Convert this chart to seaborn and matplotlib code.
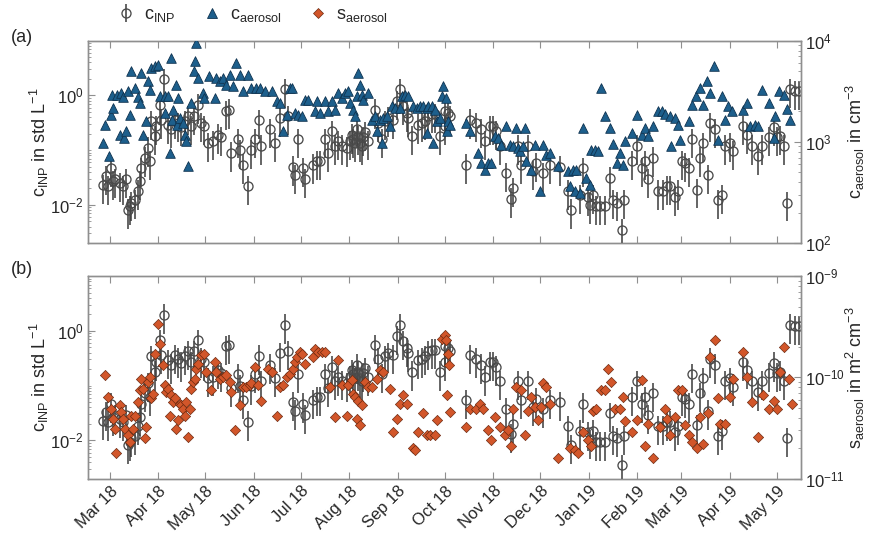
import numpy as np
import pandas as pd
import matplotlib
matplotlib.use("Agg")
import matplotlib.pyplot as plt
import matplotlib.ticker as mticker
import matplotlib.dates as mdates
from matplotlib.lines import Line2D
import seaborn as sns

sns.set_theme(style="white")
plt.rcParams["font.family"] = ["Liberation Sans", "DejaVu Sans"]
plt.rcParams["mathtext.default"] = "regular"

START = pd.Timestamp("2018-03-01")

# ---------------- data (day offset from 1 Mar 2018, value) ----------------
inp_day = [-4.5, -2.3, -1.3, 0.8, 1.9, 3.0, 6.2, 8.3, 10.4, 11.5, 12.6, 13.6, 15.8, 17.9, 19.0,
           20.0, 22.2, 24.3, 25.3, 26.0, 28.5, 29.6, 31.7, 32.8, 34.5, 37.1, 39.2, 41.3, 43.4,
           45.6, 47.7, 49.8, 51.9, 54.0, 56.2, 58.3, 60.4, 62.6, 65.8, 69.0, 71.1, 74.3, 75.8,
           77.5, 81.8, 82.8, 85.0, 88.2, 90.3, 92.4, 95.0, 96.7, 102.2, 105.4, 108.6, 111.8,
           113.9, 117.1, 118.2, 120.3, 123.5, 124.6, 129.9, 132.0, 134.1, 137.3, 139.5, 141.6,
           143.7, 145.9, 148.0, 151.2, 153.3, 154.4, 155.4, 156.5, 157.6, 158.6, 159.7, 160.8,
           161.8, 162.9, 165.0, 169.3, 171.4, 173.5, 175.7, 177.8, 181.0, 183.1, 185.3, 187.4,
           189.5, 190.6, 192.7, 197.0, 199.1, 201.2, 203.4, 205.5, 207.6, 210.8, 213.9, 214.0,
           216.0, 217.1, 227.7, 229.8, 234.1, 237.3, 239.4, 242.6, 244.7, 246.9, 249.0, 253.3,
           256.5, 257.5, 260.7, 262.9, 267.1, 270.3, 272.4, 276.7, 281.0, 287.3, 292.7, 294.8,
           300.1, 302.3, 305.5, 306.5, 308.6, 310.8, 312.9, 316.1, 319.3, 321.4, 323.6, 326.8,
           328.5, 333.4, 336.6, 339.7, 341.9, 344.0, 347.2, 350.4, 353.6, 355.7, 357.8, 361.0,
           363.2, 365.3, 367.4, 369.6, 371.7, 374.9, 377.0, 378.7, 382.3, 383.4, 386.6, 388.7,
           390.9, 393.0, 396.2, 398.3, 404.7, 406.8, 410.0, 414.3, 416.4, 420.7, 423.9, 426.0,
           428.1, 430.3, 432.4, 434.5, 437.7, 439.9]
inp_val = [0.023, 0.033, 0.022, 0.047, 0.027, 0.029, 0.025, 0.022, 0.029, 0.0081, 0.0093, 0.011,
           0.012, 0.018, 0.027, 0.047, 0.072, 0.11, 0.062, 0.34, 0.18, 0.27, 0.68, 0.36, 1.97,
           0.29, 0.24, 0.36, 0.31, 0.26, 0.34, 0.42, 0.27, 0.42, 0.68, 0.31, 0.27, 0.135, 0.145,
           0.19, 0.17, 0.52, 0.55, 0.089, 0.16, 0.10, 0.054, 0.022, 0.10, 0.16, 0.35, 0.12, 0.24,
           0.135, 0.39, 1.29, 0.42, 0.050, 0.035, 0.16, 0.047, 0.029, 0.054, 0.062, 0.062, 0.16,
           0.089, 0.22, 0.12, 0.145, 0.12, 0.11, 0.145, 0.19, 0.16, 0.135, 0.24, 0.18, 0.135,
           0.12, 0.17, 0.21, 0.145, 0.55, 0.31, 0.16, 0.34, 0.39, 0.36, 0.79, 1.29, 0.64, 0.48,
           0.39, 0.18, 0.29, 0.31, 0.34, 0.42, 0.45, 0.45, 0.18, 0.27, 0.52, 0.48, 0.42, 0.054,
           0.36, 0.31, 0.24, 0.145, 0.27, 0.27, 0.22, 0.12, 0.038, 0.013, 0.020, 0.12, 0.054,
           0.12, 0.041, 0.058, 0.038, 0.054, 0.050, 0.018, 0.0081, 0.015, 0.047, 0.014, 0.010,
           0.015, 0.0093, 0.0093, 0.0093, 0.031, 0.012, 0.011, 0.0035, 0.012, 0.062, 0.12, 0.047,
           0.062, 0.029, 0.072, 0.018, 0.018, 0.022, 0.022, 0.014, 0.018, 0.062, 0.058, 0.047,
           0.16, 0.019, 0.072, 0.135, 0.035, 0.31, 0.24, 0.012, 0.015, 0.12, 0.135, 0.095, 0.27,
           0.19, 0.12, 0.077, 0.12, 0.17, 0.26, 0.17, 0.18, 0.12, 0.011, 1.29, 1.2, 1.2]

aer_day = [-4.5, -3.0, -0.9, 0.5, 1.2, 1.9, 4.7, 7.2, 8.3, 6.2, 8.8, 10.4, 12.6, 11.5, 13.6, 15.8,
           17.9, 19.0, 20.0, 21.1, 23.2, 24.3, 25.3, 26.4, 28.5, 30.7, 31.7, 34.9, 35.4, 37.1,
           38.1, 39.2, 39.7, 40.3, 42.4, 42.9, 43.4, 44.5, 46.6, 47.7, 48.8, 49.8, 51.9, 53.7,
           54.1, 55.2, 56.2, 59.4, 60.4, 63.6, 66.8, 67.9, 70.0, 72.2, 74.3, 76.5, 78.6, 80.7,
           82.8, 85.0, 88.2, 90.3, 93.5, 95.6, 98.8, 103.3, 106.5, 108.6, 110.7, 112.8, 115.0,
           116.0, 118.2, 120.3, 122.4, 124.6, 126.7, 130.9, 132.0, 134.1, 137.3, 139.5, 141.6,
           143.7, 145.9, 148.0, 150.1, 152.2, 153.3, 155.4, 156.5, 157.6, 158.6, 159.7, 160.8,
           161.8, 165.0, 167.2, 169.3, 170.4, 172.5, 173.5, 174.6, 176.7, 178.9, 179.9, 182.1,
           185.3, 186.3, 188.5, 190.6, 193.8, 195.9, 198.0, 200.2, 202.3, 202.8, 203.4, 205.5,
           206.6, 207.6, 208.7, 210.8, 211.9, 213.0, 214.9, 215.5, 216.0, 217.1, 227.7, 229.8,
           235.2, 237.3, 239.4, 241.6, 243.7, 245.8, 248.0, 250.1, 253.3, 255.4, 257.5, 259.7,
           260.5, 261.8, 263.9, 265.0, 266.0, 269.2, 271.4, 274.6, 276.7, 278.8, 281.0, 286.3,
           292.7, 293.7, 295.9, 296.9, 298.0, 300.1, 302.3, 304.4, 306.5, 307.6, 309.7, 311.8,
           314.0, 316.1, 319.3, 321.4, 323.6, 325.7, 327.8, 329.1, 333.4, 336.6, 339.7, 341.9,
           344.0, 347.2, 350.4, 352.5, 354.7, 357.8, 358.5, 361.0, 363.2, 364.2, 369.6, 371.7,
           374.5, 377.0, 379.1, 381.7, 383.4, 386.0, 388.7, 390.9, 393.0, 395.1, 397.3, 404.7,
           406.8, 409.0, 412.2, 414.3, 416.4, 420.7, 423.9, 424.9, 427.1, 430.3, 432.4, 434.5]
aer_val = [975, 1480, 720, 1860, 2930, 2160, 2930, 3040, 2760, 1180, 1090, 1270, 1830, 3160, 5050,
           3410, 2760, 2420, 4800, 1180, 1600, 3970, 3280, 5370, 5580, 5790, 2820, 2820, 1930,
           2820, 776, 6740, 1660, 2080, 3680, 1480, 2710, 1720, 1540, 1180, 1010, 573, 2420, 4980,
           6250, 9480, 4280, 3040, 2710, 4440, 2710, 4280, 3970, 4280, 3680, 4620, 3540, 6010,
           4540, 3160, 4620, 3410, 3410, 3410, 3160, 3160, 2520, 2420, 1270, 1860, 3410, 3410,
           1930, 1860, 1790, 2610, 2610, 2000, 2520, 1930, 2520, 2000, 2520, 2080, 3040, 2710,
           3040, 3160, 2420, 2080, 1790, 2820, 4800, 3680, 2930, 2610, 3040, 1660, 1790, 1270,
           1660, 975, 1720, 1790, 1420, 2250, 2160, 2160, 2820, 2930, 2820, 2250, 2160, 2250,
           2250, 2160, 1220, 2250, 2250, 975, 2080, 1600, 1720, 2820, 3540, 2710, 1270, 1600,
           1480, 1540, 1270, 776, 618, 531, 618, 618, 1140, 1090, 938, 1420, 938, 904, 1370, 870,
           806, 904, 1370, 642, 531, 938, 325, 938, 748, 776, 573, 512, 364, 531, 325, 531, 313,
           1370, 440, 378, 838, 838, 806, 3410, 1790, 1370, 953, 618, 776, 596, 1010, 1220, 1860,
           1180, 1370, 1140, 1420, 2000, 2000, 1880, 1790, 904, 1720, 1460, 1050, 1620, 2330,
           2820, 3410, 2330, 3970, 3040, 5580, 1050, 2820, 1660, 2250, 2030, 2080, 2420, 1420,
           1460, 1420, 3280, 2420, 1090, 1790, 3160, 2930, 2130, 1660]

# aerosol surface area concentration in units of 1e-10 m^2 cm^-3
sfc_day = [-3.4, -1.3, 0.8, 1.9, 3.0, 4.0, 6.2, 7.2, 8.3, 9.4, 11.5, 12.6, 13.6, 14.7, 15.8, 17.9,
           19.0, 20.0, 21.1, 22.2, 23.2, 24.3, 25.3, 26.4, 27.5, 28.5, 30.7, 31.7, 33.9, 34.9,
           36.0, 37.1, 38.1, 39.2, 40.3, 41.3, 42.4, 43.4, 44.5, 45.6, 46.6, 47.7, 48.8, 49.8,
           50.9, 51.9, 53.0, 54.1, 55.2, 56.2, 58.3, 60.4, 61.5, 64.7, 66.8, 67.9, 70.0, 72.2,
           74.3, 76.5, 77.5, 79.7, 82.8, 85.0, 87.1, 89.2, 90.3, 92.4, 94.6, 96.7, 101.0, 103.3,
           106.5, 108.6, 110.7, 112.8, 115.0, 117.1, 118.2, 119.2, 121.4, 122.4, 124.6, 129.9,
           130.9, 133.1, 135.2, 137.3, 140.5, 143.7, 145.9, 148.0, 151.2, 152.2, 154.4, 155.4,
           156.5, 157.6, 158.6, 159.7, 160.8, 162.9, 165.0, 167.2, 170.4, 172.5, 174.6, 178.9,
           181.0, 183.1, 185.3, 187.4, 189.5, 193.8, 194.8, 197.0, 200.2, 202.3, 204.4, 207.6,
           208.7, 211.9, 214.0, 214.9, 216.0, 216.6, 215.3, 217.1, 227.7, 229.8, 234.1, 236.2,
           238.4, 241.6, 243.7, 245.8, 249.0, 252.2, 254.3, 256.5, 257.5, 259.7, 262.9, 265.0,
           267.1, 269.2, 271.4, 273.5, 275.6, 276.7, 278.8, 281.0, 286.3, 293.7, 296.9, 299.1,
           302.3, 305.5, 307.6, 308.6, 310.8, 314.0, 316.1, 318.2, 320.4, 322.5, 325.7, 327.8,
           329.0, 333.4, 336.6, 339.7, 341.9, 344.0, 347.2, 351.5, 354.7, 355.7, 357.8, 361.0,
           363.2, 365.3, 367.4, 369.6, 371.7, 374.9, 377.0, 379.1, 382.3, 383.4, 386.6, 388.7,
           389.8, 393.0, 396.2, 398.3, 404.7, 406.8, 410.0, 414.3, 417.5, 420.7, 423.9, 426.0,
           428.1, 430.3, 433.5, 435.6]
sfc_val = [1.05, 0.64, 0.49, 0.39, 0.31, 0.18, 0.53, 0.46, 0.39, 0.31, 0.27, 0.23, 0.42, 0.31, 0.42,
           0.57, 0.75, 0.97, 0.77, 0.25, 0.32, 0.90, 1.01, 0.62, 0.69, 1.71, 3.39, 2.15, 1.32,
           0.84, 0.72, 0.77, 0.42, 0.67, 0.57, 0.62, 0.31, 0.38, 0.55, 0.53, 0.49, 0.42, 0.57,
           0.26, 0.49, 0.77, 0.90, 0.97, 1.22, 1.36, 1.65, 1.71, 1.13, 0.75, 1.42, 1.13, 0.97,
           1.01, 1.05, 0.90, 0.72, 0.30, 0.53, 0.80, 0.80, 0.84, 0.87, 1.27, 0.84, 0.59, 1.22,
           1.13, 0.42, 0.80, 0.84, 1.01, 1.09, 1.22, 1.42, 1.59, 1.78, 1.71, 1.36, 1.59, 1.92,
           1.78, 1.78, 1.78, 0.80, 0.41, 1.47, 0.84, 0.42, 0.84, 0.94, 0.69, 0.64, 0.39, 0.59,
           0.34, 0.53, 0.90, 0.80, 0.80, 0.97, 1.17, 1.13, 0.77, 0.29, 0.39, 0.55, 0.67, 0.55,
           0.20, 0.19, 0.29, 0.44, 0.27, 0.27, 0.27, 0.38, 2.41, 2.60, 2.32, 1.71, 1.32, 0.67,
           0.46, 0.32, 0.49, 0.49, 0.55, 0.49, 0.30, 0.24, 0.41, 0.32, 0.27, 0.30, 0.21, 0.49,
           0.80, 0.75, 0.27, 0.47, 0.64, 0.51, 0.38, 0.51, 0.87, 0.80, 0.55, 0.16, 0.20, 0.19,
           0.18, 0.29, 0.24, 0.21, 0.47, 0.49, 0.75, 0.75, 1.22, 0.90, 0.49, 0.49, 0.64, 0.37,
           0.29, 0.38, 0.94, 0.21, 0.35, 0.16, 0.32, 0.49, 0.39, 0.27, 0.41, 0.75, 0.75, 0.34,
           0.27, 0.23, 0.20, 0.41, 0.22, 0.44, 1.59, 2.32, 0.62, 0.35, 0.35, 0.64, 0.97, 1.78,
           1.01, 0.57, 0.26, 0.67, 0.49, 0.59, 0.49, 1.13, 2.00, 0.97, 0.55]

INP_REL_ERR = 0.55
month_ticks = pd.date_range("2018-03-01", "2019-05-01", freq="MS")

inp = pd.DataFrame({"date": START + pd.to_timedelta(inp_day, unit="D"), "c": inp_val})
aer = pd.DataFrame({"date": START + pd.to_timedelta(aer_day, unit="D"), "c": aer_val})
sfc = pd.DataFrame({"date": START + pd.to_timedelta(sfc_day, unit="D"),
                    "s": np.array(sfc_val) * 1e-10})

# ---------------- styling ----------------
SPINE = "#8f8f8f"
TXT = "#262626"
BLUE = "#1d5f8c"
BLUE_E = "#0f3350"
ORANGE = "#d2562a"
ORANGE_E = "#6e2a10"
FS_TICK = 12
FS_LAB = 13

fig = plt.figure(figsize=(8.75, 5.37), dpi=100)
axa = fig.add_axes([0.1006, 0.5475, 0.8149, 0.3767])
axb = fig.add_axes([0.1006, 0.1086, 0.8149, 0.3774])
xlim = (START - pd.Timedelta(days=14), START + pd.Timedelta(days=441.5))


def draw_inp(ax):
    return ax.errorbar(inp["date"], inp["c"], yerr=[inp["c"] * INP_REL_ERR, inp["c"] * INP_REL_ERR],
                       fmt="o", ms=6.5, mfc="none", mec="#4a4a4a", mew=0.95,
                       ecolor="#3a3a3a", elinewidth=1.1, capsize=0, zorder=3)


def style_axes(ax, axr, right_major):
    for a in (ax, axr):
        for sp in a.spines.values():
            sp.set_color(SPINE)
            sp.set_linewidth(1.0)
    ax.set_yscale("log")
    ax.set_ylim(2e-3, 10)
    ax.yaxis.set_major_locator(mticker.FixedLocator([1e-2, 1e0]))
    ax.yaxis.set_major_formatter(mticker.LogFormatterMathtext())
    ax.yaxis.set_minor_locator(mticker.LogLocator(base=10, subs=np.arange(1, 10), numticks=50))
    ax.yaxis.set_minor_formatter(mticker.NullFormatter())
    axr.set_yscale("log")
    axr.yaxis.set_major_locator(mticker.FixedLocator(right_major))
    axr.yaxis.set_major_formatter(mticker.LogFormatterMathtext())
    axr.yaxis.set_minor_locator(mticker.LogLocator(base=10, subs=np.arange(1, 10), numticks=50))
    axr.yaxis.set_minor_formatter(mticker.NullFormatter())
    ax.set_xlim(*xlim)
    ax.set_xticks(month_ticks)
    ax.xaxis.set_minor_locator(mticker.NullLocator())
    ax.tick_params(axis="x", which="major", direction="in", length=5, width=0.8, color=SPINE,
                   top=True, bottom=True, labelsize=FS_TICK, labelcolor=TXT)
    ax.tick_params(axis="y", which="major", direction="in", length=5, width=0.8, color=SPINE,
                   left=True, right=False, labelsize=FS_TICK, labelcolor=TXT, pad=3)
    ax.tick_params(axis="y", which="minor", direction="in", length=2.5, width=0.6, color=SPINE,
                   left=True, right=False)
    axr.tick_params(axis="y", which="major", direction="in", length=5, width=0.8, color=SPINE,
                    right=True, left=False, labelsize=FS_TICK, labelcolor=TXT, pad=3)
    axr.tick_params(axis="y", which="minor", direction="in", length=2.5, width=0.6, color=SPINE,
                    right=True, left=False)


# ---------------- panel (a) ----------------
eb = draw_inp(axa)
axa_r = axa.twinx()
sns.scatterplot(data=aer, x="date", y="c", ax=axa_r, marker="^", s=48, color=BLUE,
                edgecolor=BLUE_E, linewidth=0.6, legend=False, zorder=4)
style_axes(axa, axa_r, [1e2, 1e3, 1e4])
axa_r.set_ylim(1e2, 1e4)
axa.set_xlim(*xlim)
axa.tick_params(axis="x", labelbottom=False)
axa.set_xlabel("")
axa_r.set_xlabel("")
axa.set_ylabel(r"c$_{INP}$ in std L$^{-1}$", fontsize=FS_LAB, color=TXT)
axa.yaxis.set_label_coords(-0.052, 0.5)
axa_r.set_ylabel(r"c$_{aerosol}$ in cm$^{-3}$", fontsize=FS_LAB, color=TXT)
axa_r.yaxis.set_label_coords(1.06, 0.5)

# ---------------- panel (b) ----------------
draw_inp(axb)
axb_r = axb.twinx()
sns.scatterplot(data=sfc, x="date", y="s", ax=axb_r, marker="D", s=27, color=ORANGE,
                edgecolor=ORANGE_E, linewidth=0.5, legend=False, zorder=4)
style_axes(axb, axb_r, [1e-11, 1e-10, 1e-9])
axb_r.set_ylim(1e-11, 1e-9)
axb.set_xlim(*xlim)
axb.xaxis.set_major_formatter(mdates.DateFormatter("%b %y"))
for lab in axb.get_xticklabels():
    lab.set_rotation(45)
    lab.set_ha("right")
    lab.set_rotation_mode("anchor")
axb.set_xlabel("")
axb_r.set_xlabel("")
axb.set_ylabel(r"c$_{INP}$ in std L$^{-1}$", fontsize=FS_LAB, color=TXT)
axb.yaxis.set_label_coords(-0.052, 0.5)
axb_r.set_ylabel(r"s$_{aerosol}$ in m$^{2}$ cm$^{-3}$", fontsize=FS_LAB, color=TXT)
axb_r.yaxis.set_label_coords(1.06, 0.5)

# ---------------- legend & panel labels ----------------
h_tri = Line2D([], [], ls="none", marker="^", ms=7, mfc=BLUE, mec=BLUE_E, mew=0.6)
h_dia = Line2D([], [], ls="none", marker="D", ms=5.2, mfc=ORANGE, mec=ORANGE_E, mew=0.5)
fig.legend([eb, h_tri, h_dia], [r"c$_{INP}$", r"c$_{aerosol}$", r"s$_{aerosol}$"],
           loc="center left", bbox_to_anchor=(0.115, 1 - 15 / 537), ncol=3, frameon=False,
           fontsize=FS_LAB, handlelength=1.0, handletextpad=0.5, columnspacing=1.5,
           labelcolor=TXT)
fig.text(0.012, 1 - 38 / 537, "(a)", fontsize=13, color=TXT, va="center", ha="left")
fig.text(0.012, 1 - 270 / 537, "(b)", fontsize=13, color=TXT, va="center", ha="left")

fig.savefig("out.png", dpi=100)
